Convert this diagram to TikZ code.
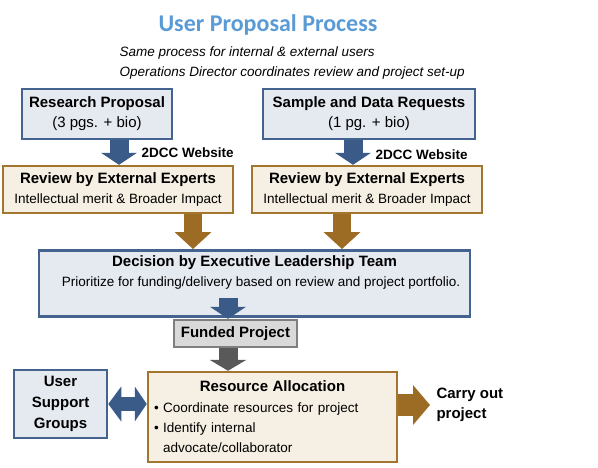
\documentclass[tikz,border=0pt]{standalone}
\usepackage{fontspec}
\setmainfont{Liberation Sans}
\newfontfamily\titlefont{Carlito}
\usepackage{tikz}
\usetikzlibrary{arrows.meta,positioning}
\definecolor{bluebd}{HTML}{44648F}
\definecolor{bluefill}{HTML}{E5E9F0}
\definecolor{bluearr}{HTML}{3A5A88}
\definecolor{brownbd}{HTML}{A37630}
\definecolor{brownfill}{HTML}{F6EFE3}
\definecolor{brownarr}{HTML}{9C6B24}
\definecolor{graybd}{HTML}{7F7F7F}
\definecolor{grayfill}{HTML}{D9D9D9}
\definecolor{grayarr}{HTML}{595959}
\definecolor{titleblue}{HTML}{5B9BD5}

\begin{document}
\begin{tikzpicture}[
  x=1pt, y=-1pt,
  box/.style={draw, line width=2.5pt, inner sep=0pt, align=center, font=\fontsize{15}{20}\selectfont},
  bluebox/.style={box, draw=bluebd, fill=bluefill},
  brownbox/.style={box, draw=brownbd, fill=brownfill},
  graybox/.style={box, draw=graybd, fill=grayfill},
  sub/.style={font=\fontsize{13.5}{20}\selectfont},
  blarr/.style={line width=19pt, draw=bluearr, -{Triangle[width=36pt,length=12pt,line width=0pt,fill=bluearr]}},
  brarr/.style={line width=18pt, draw=brownarr, -{Triangle[width=37pt,length=17pt,line width=0pt,fill=brownarr]}},
  grarr/.style={line width=19pt, draw=grayarr, -{Triangle[width=37pt,length=11pt,line width=0pt,fill=grayarr]}},
]
\useasboundingbox (0,0) rectangle (598,467);

% Heading
\node[font=\titlefont\fontsize{24}{28}\selectfont\bfseries, text=titleblue] (title) at (268,25) {User Proposal Process};
\node[anchor=west, align=left, font=\fontsize{13.5}{20}\selectfont\itshape] (note) at (116,63)
  {Same process for internal \& external users\\Operations Director coordinates review and project set-up};

% Requests
\node[bluebox, minimum width=150pt, minimum height=50pt] (rp) at (97,114) {\textbf{Research Proposal}\\(3 pgs. + bio)};
\node[bluebox, minimum width=212pt, minimum height=50pt] (sdr) at (369,114) {\textbf{Sample and Data Requests}\\(1 pg. + bio)};

% Review
\node[brownbox, minimum width=230pt, minimum height=47pt] (rev1) at (118,189.5)
  {\textbf{Review by External Experts}\\{\fontsize{13.5}{20}\selectfont Intellectual merit \& Broader Impact}};
\node[brownbox, minimum width=230pt, minimum height=47pt] (rev2) at (367,189.5)
  {\textbf{Review by External Experts}\\{\fontsize{13.5}{20}\selectfont Intellectual merit \& Broader Impact}};

% Decision
\node[bluebox, minimum width=431pt, minimum height=66pt, anchor=north] (dec) at (254.5,249) {};
\node[font=\fontsize{15}{20}\selectfont\bfseries] (dectitle) at (254.5,263) {Decision by Executive Leadership Team};
\node[sub] (decnote) at (261,283) {Prioritize for funding/delivery based on review and project portfolio.};

% Funding and allocation
\node[graybox, minimum width=123pt, minimum height=27pt] (fund) at (235.5,333.5) {\textbf{Funded Project}};
\node[bluebox, minimum width=93pt, minimum height=68pt, font=\fontsize{15}{21}\selectfont\bfseries] (usg) at (60.5,404) {User\\Support\\Groups};
\node[brownbox, minimum width=249pt, minimum height=90pt, text width=237pt, align=left, font=\fontsize{13.5}{20.3}\selectfont] (res) at (272.5,417)
  {\makebox[\linewidth]{\fontsize{15}{20}\selectfont\bfseries Resource Allocation}\\
   \textbullet~Coordinate resources for project\\
   \textbullet~Identify internal\\
   \phantom{\textbullet~}advocate/collaborator};
\node[anchor=west, align=left, font=\fontsize{15}{20}\selectfont\bfseries] (carry) at (433,405) {Carry out\\project};

% Arrows
\path (fund.north |- dec.south) ++(0,-20) coordinate (decout);
\draw[blarr] ([xshift=22pt]rp.south) -- ([xshift=22pt]rp.south |- rev1.north);
\draw[blarr] ([xshift=-16pt]sdr.south) -- ([xshift=-16pt]sdr.south |- rev2.north);
\node[anchor=west, font=\fontsize{13.5}{16}\selectfont\bfseries] (web1) at (138,153) {2DCC Website};
\node[anchor=west, font=\fontsize{13.5}{16}\selectfont\bfseries] (web2) at (372,155) {2DCC Website};
\draw[brarr] ([xshift=75pt]rev1.south) -- ([xshift=75pt]rev1.south |- dec.north);
\draw[brarr] ([xshift=-25pt]rev2.south) -- ([xshift=-25pt]rev2.south |- dec.north);
\draw[blarr] ([xshift=-7.5pt]decout) -- ([xshift=-7.5pt]fund.north);
\draw[grarr] ([xshift=-7.5pt]fund.south) -- ([xshift=-7.5pt]fund.south |- res.north);
\draw[line width=14pt, draw=bluearr, {Triangle[width=35pt,length=13pt,line width=0pt,fill=bluearr]}-{Triangle[width=35pt,length=12pt,line width=0pt,fill=bluearr]}]
  (usg.east) -- (usg.east -| res.west);
\draw[line width=22pt, draw=brownarr, -{Triangle[width=40pt,length=17pt,line width=0pt,fill=brownarr]}]
  (res.east |- carry.west) -- ([xshift=-3pt]carry.west);
\end{tikzpicture}
\end{document}
